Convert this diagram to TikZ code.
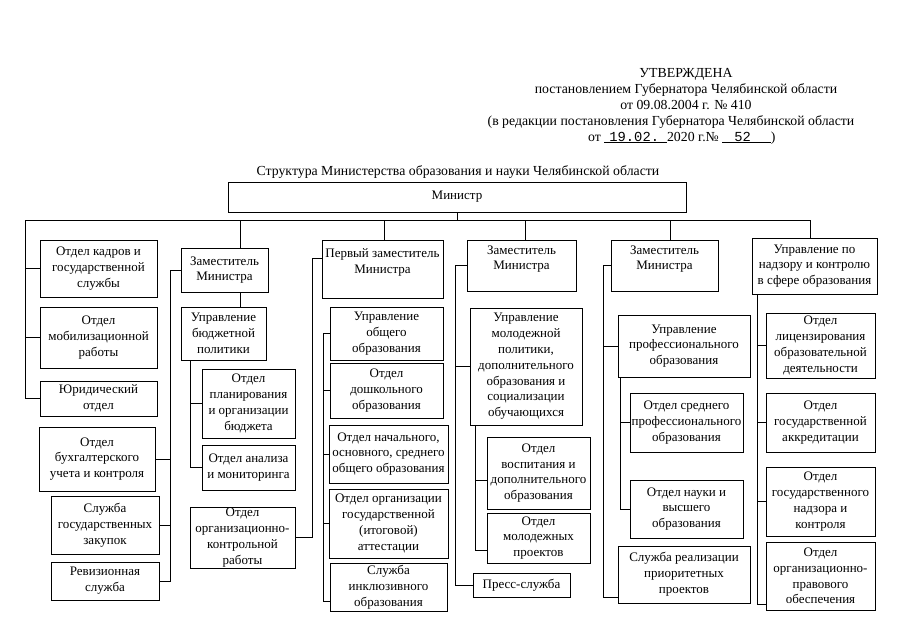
\documentclass[tikz,border=0pt]{standalone}
\usepackage{fontspec}
\setmainfont{Liberation Serif}
\newfontfamily\monof{Liberation Mono}
\newcommand\obox[6]{\node[bx, minimum width={(#4-#2)*1pt}, minimum height={(#5-#3)*1pt}] (#1) at ({(#2+#4)/2},{(#3+#5)/2}) {#6};}
\begin{document}
\begin{tikzpicture}[x=1pt,y=-1pt,
  bx/.style={draw, line width=0.9pt, align=center, inner sep=1pt, font=\fontsize{13}{15.8}\selectfont},
  ln/.style={line width=0.8pt},
  hdr/.style={anchor=base, inner sep=0pt, font=\fontsize{13.8}{16}\selectfont}]
\useasboundingbox (0,0) rectangle (905,640);
\fill[white] (0,0) rectangle (905,640);
% header
\node[hdr] (h1) at (686,77) {УТВЕРЖДЕНА};
\node[hdr] (h2) at (686,93) {постановлением Губернатора Челябинской области};
\node[hdr] (h3) at (686,109) {от 09.08.2004 г. № 410};
\node[hdr] (h4) at (671,125) {(в редакции постановления Губернатора Челябинской области};
\node[hdr, anchor=base west] (h5) at (588,141) {от \underline{\hspace{5pt}{\monof 19.02.}\hspace{8pt}}2020 г.№ \underline{\hspace{12pt}{\monof 52}\hspace{20pt}})};
\node[hdr] (title) at (458,175) {Структура Министерства образования и науки Челябинской области};
% boxes
\obox{min}{228}{182}{686}{212}{Министр}
% col1
\obox{kadry}{40}{240}{157}{297}{Отдел кадров и\\государственной\\службы}
\obox{mob}{40}{307}{157}{368}{Отдел\\мобилизационной\\работы}
\obox{yur}{40}{381}{157}{416}{Юридический\\отдел}
\obox{buh}{39}{427}{155}{491}{Отдел\\бухгалтерского\\учета и контроля}
\obox{zak}{51}{496}{159}{554}{Служба\\государственных\\закупок}
\obox{rev}{51}{562}{159}{600}{Ревизионная\\служба}
% col2
\obox{zam2}{181}{248}{268}{292}{Заместитель\\Министра}
\obox{upr2}{181}{307}{266}{360}{Управление\\бюджетной\\политики}
\obox{plan}{202}{369}{295}{438}{Отдел\\планирования\\и организации\\бюджета}
\obox{anal}{202}{445}{295}{490}{Отдел анализа\\и мониторинга}
\obox{orgk}{190}{507}{295}{568}{Отдел\\организационно-\\контрольной\\работы}
% col3
\obox{perv}{322}{240}{443}{298}{Первый заместитель\\Министра\\\mbox{}}
\obox{obsh}{330}{307}{443}{360}{Управление\\общего\\образования}
\obox{dosh}{330}{363}{443}{418}{Отдел\\дошкольного\\образования}
\obox{nach}{329}{425}{448}{483}{Отдел начального,\\основного, среднего\\общего образования}
\obox{att}{329}{489}{448}{558}{Отдел организации\\государственной\\(итоговой)\\аттестации}
\obox{incl}{330}{563}{447}{611}{Служба\\инклюзивного\\образования}
% col4
\obox{zam4}{467}{240}{576}{291}{Заместитель\\Министра\\\mbox{}}
\obox{upr4}{470}{308}{582}{425}{Управление\\молодежной\\политики,\\дополнительного\\образования и\\социализации\\обучающихся}
\obox{vosp}{487}{437}{590}{509}{Отдел\\воспитания и\\дополнительного\\образования}
\obox{molp}{487}{513}{590}{563}{Отдел\\молодежных\\проектов}
\obox{press}{473}{573}{570}{597}{Пресс-служба}
% col5
\obox{zam5}{611}{240}{718}{291}{Заместитель\\Министра\\\mbox{}}
\obox{upr5}{618}{315}{750}{377}{Управление\\профессионального\\образования}
\obox{sred}{630}{393}{743}{452}{Отдел среднего\\профессионального\\образования}
\obox{nauka}{630}{480}{743}{538}{Отдел науки и\\высшего\\образования}
\obox{realiz}{618}{546}{750}{603}{Служба реализации\\приоритетных\\проектов}
% col6
\obox{nadz}{752}{238}{877}{294}{Управление по\\надзору и контролю\\в сфере образования}
\obox{lic}{766}{313}{875}{378}{Отдел\\лицензирования\\образовательной\\деятельности}
\obox{akk}{766}{393}{875}{452}{Отдел\\государственной\\аккредитации}
\obox{gnadz}{766}{467}{875}{536}{Отдел\\государственного\\надзора и\\контроля}
\obox{prav}{766}{542}{875}{610}{Отдел\\организационно-\\правового\\обеспечения}
% coordinates
\coordinate (busL) at (25,220);
\coordinate (b2) at (240,220);
\coordinate (b3) at (384,220);
\coordinate (b4) at (525,220);
\coordinate (b5) at (670,220);
\coordinate (b6) at (810,220);
\coordinate (s2) at (170,0);
\coordinate (s2b) at (190,0);
\coordinate (s3) at (312,0);
\coordinate (s4) at (323,0);
\coordinate (s5) at (455,0);
\coordinate (s5b) at (475,0);
\coordinate (s6) at (603,0);
\coordinate (s6b) at (620,0);
\coordinate (s7) at (757,0);
\coordinate (c3b) at (0,601);
\coordinate (c4a) at (0,480);
\coordinate (c4b) at (0,550);
\coordinate (c5b) at (0,597);
\coordinate (c6b) at (0,604);
% bus
\draw[ln] (min.south) -- (min.south |- busL);
\draw[ln] (busL) -- (b6);
\draw[ln] (b2) -- (zam2.north -| b2);
\draw[ln] (b3) -- (perv.north -| b3);
\draw[ln] (b4) -- (zam4.north -| b4);
\draw[ln] (b5) -- (zam5.north -| b5);
\draw[ln] (b6) -- (nadz.north -| b6);
% col1 left spine
\draw[ln] (busL) -- (busL |- yur.west) -- (yur.west);
\draw[ln] (busL |- kadry.west) -- (kadry.west);
\draw[ln] (busL |- mob.west) -- (mob.west);
% col2 deputy spine
\draw[ln] (zam2.west) -- (s2 |- zam2.west) -- (s2 |- rev.east) -- (rev.east);
\draw[ln] (s2 |- buh.east) -- (buh.east);
\draw[ln] (s2 |- zak.east) -- (zak.east);
\draw[ln] (zam2.south -| b2) -- (upr2.north -| b2);
\draw[ln] (upr2.south -| s2b) -- (s2b |- anal.west) -- (anal.west);
\draw[ln] (s2b |- plan.west) -- (plan.west);
% col3
\draw[ln] ([yshift=11pt]perv.west) -| (s3 |- orgk.east) -- (orgk.east);
\draw[ln] (obsh.west) -- (s4 |- obsh.west) -- (s4 |- c3b) -- (incl.west |- c3b);
\draw[ln] (s4 |- dosh.west) -- (dosh.west);
\draw[ln] (s4 |- nach.west) -- (nach.west);
\draw[ln] (s4 |- att.west) -- (att.west);
% col4
\draw[ln] (zam4.west) -- (s5 |- zam4.west) -- (s5 |- press.west) -- (press.west);
\draw[ln] (s5 |- upr4.west) -- (upr4.west);
\draw[ln] (upr4.south -| s5b) -- (s5b |- c4b) -- (molp.west |- c4b);
\draw[ln] (s5b |- c4a) -- (vosp.west |- c4a);
% col5
\draw[ln] (zam5.west) -- (s6 |- zam5.west) -- (s6 |- c5b) -- (realiz.west |- c5b);
\draw[ln] (s6 |- upr5.west) -- (upr5.west);
\draw[ln] (upr5.south -| s6b) -- (s6b |- nauka.west) -- (nauka.west);
\draw[ln] (s6b |- sred.west) -- (sred.west);
% col6
\draw[ln] (nadz.south -| s7) -- (s7 |- c6b) -- (prav.west |- c6b);
\draw[ln] (s7 |- lic.west) -- (lic.west);
\draw[ln] (s7 |- akk.west) -- (akk.west);
\draw[ln] (s7 |- gnadz.west) -- (gnadz.west);
\end{tikzpicture}
\end{document}
